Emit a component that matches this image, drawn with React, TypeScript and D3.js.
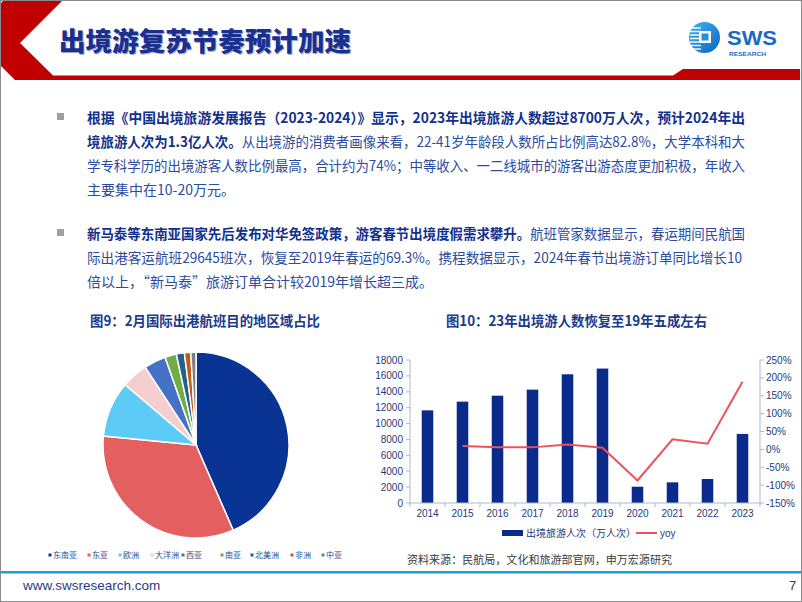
import React from "react";
import * as d3 from "d3";

// ---------- data ----------
const pieRegions = ["东南亚", "东亚", "欧洲", "大洋洲", "西亚", "南亚", "北美洲", "非洲", "中亚"];
const pieShares = [43.5, 33.1, 9.7, 4.6, 3.8, 2.0, 1.4, 1.1, 0.9];
const pieColors = ["#0a3494", "#e35f60", "#5ccbf5", "#f5cfd0", "#4472c4", "#70ad47", "#255e91", "#c55a11", "#7f7f7f"];

const years = ["2014", "2015", "2016", "2017", "2018", "2019", "2020", "2021", "2022", "2023"];
const travellers = [11660, 12760, 13510, 14270, 16200, 16920, 2050, 2600, 3020, 8690];
const yoy: (number | null)[] = [null, 0.095, 0.057, 0.056, 0.135, 0.045, -0.87, 0.28, 0.16, 1.89];
const leftTicks = [0, 2000, 4000, 6000, 8000, 10000, 12000, 14000, 16000, 18000];
const rightTicks = [-1.5, -1.0, -0.5, 0, 0.5, 1.0, 1.5, 2.0, 2.5];

const CJK = "'Noto Sans CJK SC', 'Noto Sans', sans-serif";
const LAT = "'Liberation Sans', Arial, sans-serif";

export default function App() {
  // pie
  const pie = d3.pie<number>().sort(null).value((d) => d)(pieShares);
  const arc = d3.arc<d3.PieArcDatum<number>>().innerRadius(0).outerRadius(93);
  const legendX = [50, 89, 120, 152, 183, 222, 252, 292, 323];

  // bar chart
  const x = d3.scaleBand<string>().domain(years).range([410, 760]).padding(0);
  const yL = d3.scaleLinear().domain([0, 18000]).range([503, 360]);
  const yR = d3.scaleLinear().domain([-1.5, 2.5]).range([503, 360]);
  const bw = x.bandwidth() * 0.33;
  const linePts = years
    .map((yr, i) => ({ yr, v: yoy[i] }))
    .filter((d) => d.v !== null) as { yr: string; v: number }[];
  const linePath = d3
    .line<{ yr: string; v: number }>()
    .x((d) => (x(d.yr) as number) + x.bandwidth() / 2)
    .y((d) => yR(d.v))(linePts);
  const axisColor = "#a9bad4";
  const tickColor = "#1f3a78";
  const pct = (v: number) => `${Math.round(v * 100)}%`;

  const textBlue = "#2a4b9e";
  const boldBlue = "#12308c";

  return (
    <svg width={802} height={602} style={{ position: "absolute", left: 0, top: 0, background: "#fff" }}>
      <defs>
        <linearGradient id="logoGrad" x1="0" y1="0" x2="1" y2="1">
          <stop offset="0%" stopColor="#3fb4f2" />
          <stop offset="100%" stopColor="#0d63c0" />
        </linearGradient>
      </defs>
      <rect x={0} y={0} width={802} height={602} fill="#fff" />

      {/* header */}
      <path d="M0,4 L3,1 L62,1 L20,43 L53,75.5 L673,75.5 L683,69 L800,69 L800,80 L15,80 L0,65 Z" fill="#c00000" />
      <text x={59} y={51} fontFamily={CJK} fontWeight={900} fontSize={26} fill="#9aa3c4" textLength={292} lengthAdjust="spacingAndGlyphs" transform="translate(1,1)">出境游复苏节奏预计加速</text>
      <text x={59} y={51} fontFamily={CJK} fontWeight={900} fontSize={26} fill="#1a2f8f" textLength={292} lengthAdjust="spacingAndGlyphs">出境游复苏节奏预计加速</text>

      {/* logo */}
      <circle cx={704.5} cy={37.5} r={15.5} fill="url(#logoGrad)" />
      {[28, 31.5, 35, 38.5, 42, 45.5, 49].map((yy) => (
        <line key={yy} x1={690} x2={701} y1={yy} y2={yy} stroke="#fff" strokeWidth={1.4} />
      ))}
      <rect x={699} y={31} width={12} height={12} fill="#fff" />
      <rect x={701.5} y={33.5} width={7} height={7} fill="#2a8ee0" />
      <text x={727} y={45} fontFamily={LAT} fontWeight={700} fontSize={20} fill="#1a6ac4" textLength={50} lengthAdjust="spacingAndGlyphs">SWS</text>
      <text x={729} y={55.5} fontFamily={LAT} fontWeight={700} fontSize={5.6} fill="#1a6ac4" textLength={37} lengthAdjust="spacingAndGlyphs">RESEARCH</text>

      {/* paragraph 1 */}
      <rect x={57} y={113} width={7} height={7} fill="#a0a0a0" />
      <g fontFamily={CJK} fontSize={14}>
        <text x={87} y={123} textLength={658} lengthAdjust="spacingAndGlyphs" fontWeight={700} fill={boldBlue}>根据《中国出境旅游发展报告（2023-2024）》显示，2023年出境旅游人数超过8700万人次，预计2024年出</text>
        <text x={87} y={147} textLength={658} lengthAdjust="spacingAndGlyphs">
          <tspan fontWeight={700} fill={boldBlue}>境旅游人次为1.3亿人次。</tspan>
          <tspan fill={textBlue}>从出境游的消费者画像来看，22-41岁年龄段人数所占比例高达82.8%，大学本科和大</tspan>
        </text>
        <text x={87} y={171} textLength={658} lengthAdjust="spacingAndGlyphs" fill={textBlue}>学专科学历的出境游客人数比例最高，合计约为74%；中等收入、一二线城市的游客出游态度更加积极，年收入</text>
        <text x={87} y={195} fill={textBlue}>主要集中在10-20万元。</text>
      </g>

      {/* paragraph 2 */}
      <rect x={57} y={229} width={7} height={7} fill="#a0a0a0" />
      <g fontFamily={CJK} fontSize={14}>
        <text x={87} y={239} textLength={658} lengthAdjust="spacingAndGlyphs">
          <tspan fontWeight={700} fill={boldBlue}>新马泰等东南亚国家先后发布对华免签政策，游客春节出境度假需求攀升。</tspan>
          <tspan fill={textBlue}>航班管家数据显示，春运期间民航国</tspan>
        </text>
        <text x={87} y={263} textLength={655} lengthAdjust="spacingAndGlyphs" fill={textBlue}>际出港客运航班29645班次，恢复至2019年春运的69.3%。携程数据显示，2024年春节出境游订单同比增长10</text>
        <text x={87} y={287} fill={textBlue}>倍以上，“新马泰”旅游订单合计较2019年增长超三成。</text>
      </g>

      {/* chart titles */}
      <text x={90} y={326} fontFamily={CJK} fontWeight={700} fontSize={14} fill="#1a3a8c" textLength={230} lengthAdjust="spacingAndGlyphs">图9：2月国际出港航班目的地区域占比</text>
      <text x={446} y={326} fontFamily={CJK} fontWeight={700} fontSize={14} fill="#1a3a8c" textLength={261} lengthAdjust="spacingAndGlyphs">图10：23年出境游人数恢复至19年五成左右</text>

      {/* pie */}
      <g transform="translate(196,445)">
        {pie.map((s, i) => (
          <path key={i} d={arc(s) as string} fill={pieColors[i]} stroke="#fff" strokeWidth={1.5} />
        ))}
      </g>
      <g fontFamily={CJK} fontSize={8}>
        {pieRegions.map((r, i) => (
          <g key={r}>
            <rect x={legendX[i] - 1.5} y={553.5} width={3} height={3} fill={pieColors[i]} />
            <text x={legendX[i] + 3} y={558} fill="#2c4a8c">{r}</text>
          </g>
        ))}
      </g>

      {/* bar chart */}
      <g>
        {years.map((yr, i) => (
          <rect key={yr} x={(x(yr) as number) + (x.bandwidth() - bw) / 2} y={yL(travellers[i])} width={bw} height={503 - yL(travellers[i])} fill="#0a2a8c" />
        ))}
        <path d={linePath as string} fill="none" stroke="#e8545a" strokeWidth={2} />
        {/* axes */}
        <line x1={410} x2={410} y1={360} y2={503} stroke={axisColor} />
        <line x1={760} x2={760} y1={360} y2={503} stroke={axisColor} />
        <line x1={410} x2={760} y1={503} y2={503} stroke={axisColor} />
        {leftTicks.map((t) => (
          <g key={t}>
            <line x1={406} x2={410} y1={yL(t)} y2={yL(t)} stroke={axisColor} />
            <text x={403} y={yL(t) + 3.5} textAnchor="end" fontFamily={LAT} fontSize={10} fill={tickColor}>{t}</text>
          </g>
        ))}
        {rightTicks.map((t) => (
          <g key={t}>
            <line x1={760} x2={764} y1={yR(t)} y2={yR(t)} stroke={axisColor} />
            <text x={766} y={yR(t) + 3.5} fontFamily={LAT} fontSize={10} fill={tickColor}>{pct(t)}</text>
          </g>
        ))}
        {years.map((yr, i) => (
          <g key={yr}>
            <line x1={(x(yr) as number) + x.bandwidth()} x2={(x(yr) as number) + x.bandwidth()} y1={503} y2={507} stroke={axisColor} />
            <text x={(x(yr) as number) + x.bandwidth() / 2} y={517} textAnchor="middle" fontFamily={LAT} fontSize={10} fill={tickColor}>{yr}</text>
          </g>
        ))}
        <line x1={410} x2={410} y1={503} y2={507} stroke={axisColor} />
        {/* legend */}
        <rect x={502} y={530} width={21} height={6} fill="#0a2a8c" />
        <text x={526} y={537} fontFamily={CJK} fontSize={10} fill={tickColor}>出境旅游人次（万人次）</text>
        <line x1={636} x2={657} y1={533} y2={533} stroke="#e8545a" strokeWidth={2} />
        <text x={660} y={537} fontFamily={LAT} fontSize={10} fill={tickColor}>yoy</text>
      </g>

      {/* source */}
      <text x={407} y={564} fontFamily={CJK} fontSize={11} fill="#3a3a3a" textLength={265} lengthAdjust="spacingAndGlyphs">资料来源：民航局，文化和旅游部官网，申万宏源研究</text>

      {/* footer */}
      <rect x={0} y={571} width={802} height={2.5} fill="#1aa0dc" />
      <text x={23} y={590} fontFamily={LAT} fontSize={13.5} fill="#1f3c88">www.swsresearch.com</text>
      <text x={789} y={590} fontFamily={LAT} fontSize={13} fill="#1f3c88">7</text>

      {/* frame */}
      <rect x={0.5} y={0.5} width={801} height={601} fill="none" stroke="#8a8a8a" />
    </svg>
  );
}
